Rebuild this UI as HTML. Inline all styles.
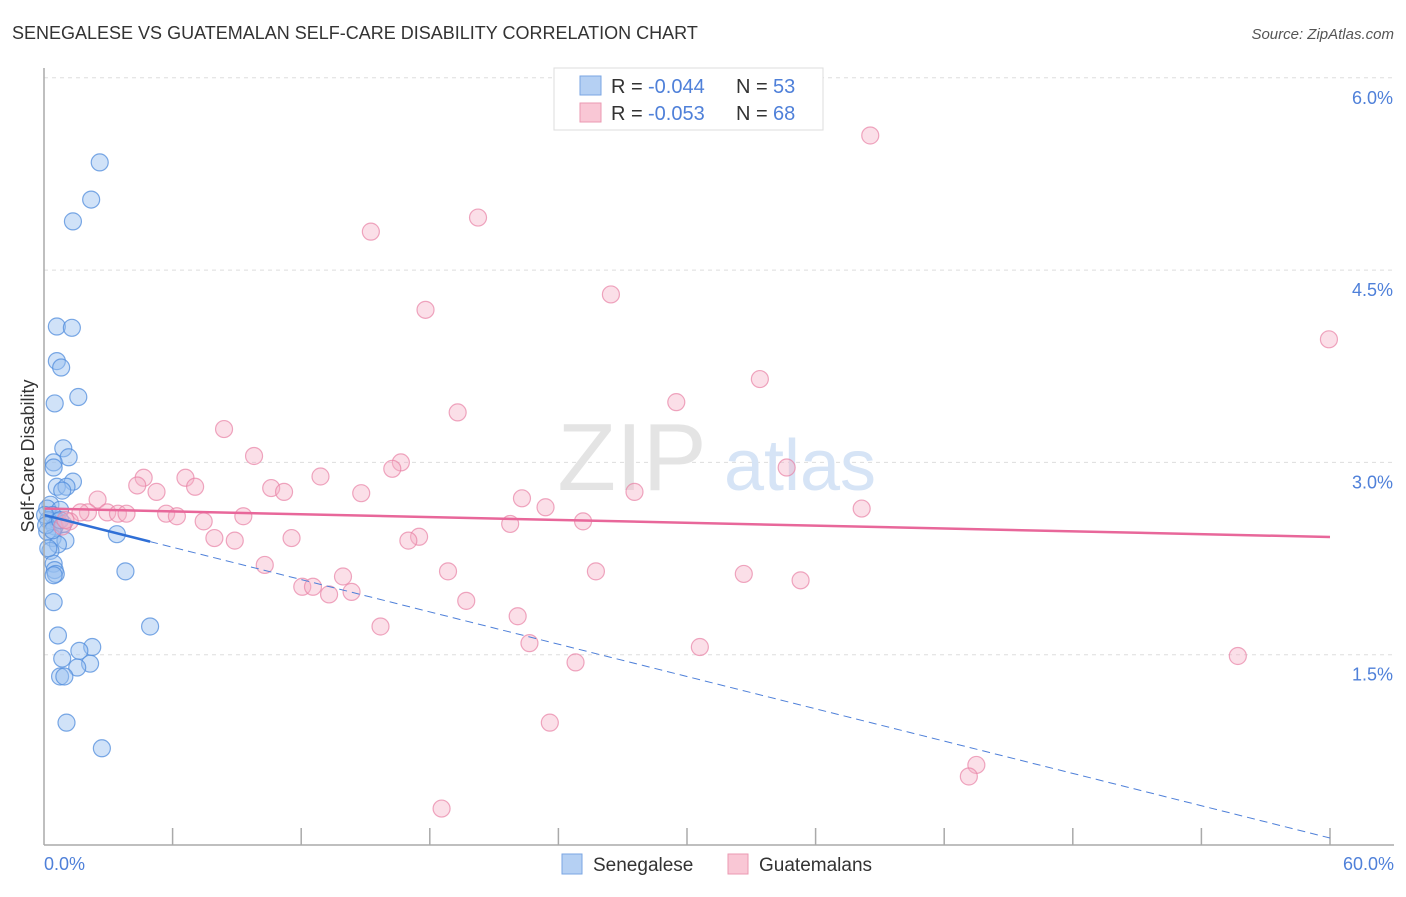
<!DOCTYPE html>
<html><head><meta charset="utf-8"><style>
body{margin:0;background:#fff;font-family:"Liberation Sans",sans-serif;}
svg text{font-family:"Liberation Sans",sans-serif;}
</style></head><body>
<svg id="chart" width="1406" height="892" viewBox="0 0 1406 892">
<text x="12" y="39" font-size="18" fill="#333">SENEGALESE VS GUATEMALAN SELF-CARE DISABILITY CORRELATION CHART</text>
<text x="1394" y="39" font-size="15" fill="#555" font-style="italic" text-anchor="end">Source: ZipAtlas.com</text>
<g id="grid"></g>
<text x="632" y="490" font-size="96" fill="#e4e4e4" font-family="Liberation Serif" text-anchor="middle">ZIP</text>
<text x="800" y="490" font-size="72" fill="#d6e4f6" text-anchor="middle">atlas</text>
<g id="marks"></g>
<line x1="44" y1="68" x2="44" y2="845" stroke="#aaa" stroke-width="1.5"/>
<line x1="44" y1="845" x2="1394" y2="845" stroke="#aaa" stroke-width="1.5"/>
<text transform="translate(34,456) rotate(-90)" font-size="18" fill="#333" text-anchor="middle">Self-Care Disability</text>
<text x="44" y="870" font-size="18" fill="#4f80d9">0.0%</text>
<text x="1394" y="870" font-size="18" fill="#4f80d9" text-anchor="end">60.0%</text>
<g>
<rect x="554" y="68" width="269" height="62" fill="#fff" stroke="#ddd"/>
<rect x="580" y="76" width="21" height="19" fill="#b5d0f3" stroke="#7aa6e3"/>
<rect x="580" y="103" width="21" height="19" fill="#f9c7d5" stroke="#eb9ab2"/>
<text x="611" y="93" font-size="20" fill="#333">R =</text>
<text x="648" y="93" font-size="20" fill="#4f80d9">-0.044</text>
<text x="736" y="93" font-size="20" fill="#333">N =</text>
<text x="773" y="93" font-size="20" fill="#4f80d9">53</text>
<text x="611" y="120" font-size="20" fill="#333">R =</text>
<text x="648" y="120" font-size="20" fill="#4f80d9">-0.053</text>
<text x="736" y="120" font-size="20" fill="#333">N =</text>
<text x="773" y="120" font-size="20" fill="#4f80d9">68</text>
</g>
<rect x="562" y="854" width="20" height="20" fill="#b5d0f3" stroke="#7aa6e3"/>
<text x="593" y="871" font-size="19" fill="#333">Senegalese</text>
<rect x="728" y="854" width="20" height="20" fill="#f9c7d5" stroke="#eb9ab2"/>
<text x="759" y="871" font-size="19" fill="#333">Guatemalans</text>
</svg>
<script>
const yTicks=[1.5,3.0,4.5,6.0];
const yTickLabels=["1.5%","3.0%","4.5%","6.0%"];
const xTicks=[6,12,18,24,30,36,42,48,54,60];
const senX=[2.6,2.2,1.35,0.6,1.3,0.6,0.8,1.6,0.5,0.9,1.15,0.45,0.45,1.35,0.6,1.05,0.85,0.3,0.15,0.75,0.4,0.2,0.65,0.9,0.5,0.15,3.4,0.4,1.0,0.65,0.3,0.45,0.5,0.55,3.8,0.45,4.95,0.65,2.25,1.65,0.85,2.15,1.55,0.75,0.95,1.05,2.7,0.05,0.1,0.4,0.75,0.2,0.45];
const senY=[5.34,5.05,4.88,4.06,4.05,3.79,3.74,3.51,3.46,3.11,3.04,3.0,2.96,2.85,2.81,2.81,2.78,2.67,2.64,2.63,2.59,2.55,2.54,2.52,2.5,2.46,2.44,2.41,2.39,2.36,2.31,2.21,2.16,2.13,2.15,1.91,1.72,1.65,1.56,1.53,1.47,1.43,1.4,1.33,1.33,0.97,0.77,2.59,2.51,2.47,2.55,2.33,2.12];
const guaX=[38.55,20.25,15.25,26.45,17.8,59.95,33.4,29.5,19.3,8.4,9.8,16.65,16.25,34.65,4.65,6.6,12.9,4.35,7.05,10.6,11.2,5.25,14.8,27.55,2.5,22.3,23.4,38.15,2.05,2.95,1.7,3.45,3.85,5.7,6.2,9.3,7.45,25.15,21.75,1.2,0.85,7.95,8.9,11.55,17.5,17.0,10.3,18.85,25.75,32.65,13.95,35.3,12.05,12.55,14.35,13.3,19.7,22.1,15.7,22.65,30.6,55.7,24.8,23.6,43.5,43.15,18.55,1.0];
const guaY=[5.55,4.91,4.8,4.31,4.19,3.96,3.65,3.47,3.39,3.26,3.05,3.0,2.95,2.96,2.88,2.88,2.89,2.82,2.81,2.8,2.77,2.77,2.76,2.77,2.71,2.72,2.65,2.64,2.61,2.61,2.61,2.6,2.6,2.6,2.58,2.58,2.54,2.54,2.52,2.54,2.5,2.41,2.39,2.41,2.42,2.39,2.2,2.15,2.15,2.13,2.11,2.08,2.03,2.03,1.99,1.97,1.92,1.8,1.72,1.59,1.56,1.49,1.44,0.97,0.64,0.55,0.3,2.55];
const senTrend=[2.59,-0.042];   // intercept, slope
const senSolidEnd=[4.95];
const guaTrend=[2.64,-0.0037];
const NS="http://www.w3.org/2000/svg";
function sx(v){return 44+v/60*1286;}
function sy(v){return 847-v/1.5*192.3;}
function mk(tag,attrs,parent){const e=document.createElementNS(NS,tag);for(const k in attrs)e.setAttribute(k,attrs[k]);parent.appendChild(e);return e;}
const grid=document.getElementById('grid'),marks=document.getElementById('marks'),svg=document.getElementById('chart');
yTicks.forEach((t,i)=>{
 const l=mk('line',{x1:44,x2:1394,y1:sy(t),y2:sy(t),stroke:'#ddd','stroke-dasharray':'4,4'},grid);
 
 
 const tx=mk('text',{x:1393,y:sy(t)+26,'font-size':18,fill:'#4f80d9','text-anchor':'end'},svg);
 tx.textContent=yTickLabels[i];
 
 
});
xTicks.forEach(t=>{
 const l=mk('line',{x1:sx(t),x2:sx(t),y1:828,y2:845,stroke:'#aaa','stroke-width':1.5},grid);
 
 
});
senX.forEach((x,i)=>{
 const c=mk('circle',{cx:sx(x),cy:sy(senY[i]),r:8.5,fill:'rgba(150,190,240,0.45)',stroke:'rgba(80,140,220,0.75)','stroke-width':1.2},marks);
 
 
});
guaX.forEach((x,i)=>{
 const c=mk('circle',{cx:sx(x),cy:sy(guaY[i]),r:8.5,fill:'rgba(246,175,198,0.4)',stroke:'rgba(232,130,165,0.7)','stroke-width':1.2},marks);
 
 
});
const gl=mk('line',{x1:sx(0),y1:sy(guaTrend[0]),x2:sx(60),y2:sy(guaTrend[0]+guaTrend[1]*60),stroke:'#e8679a','stroke-width':2.5},marks);


const bs=mk('line',{x1:sx(0),y1:sy(senTrend[0]),x2:sx(senSolidEnd[0]),y2:sy(senTrend[0]+senTrend[1]*senSolidEnd[0]),stroke:'#2f6fd6','stroke-width':2.5},marks);


const bd=mk('line',{x1:sx(senSolidEnd[0]),y1:sy(senTrend[0]+senTrend[1]*senSolidEnd[0]),x2:sx(60),y2:sy(senTrend[0]+senTrend[1]*60),stroke:'#4f80d9','stroke-width':1,'stroke-dasharray':'8,5'},marks);


</script>
</body></html>
